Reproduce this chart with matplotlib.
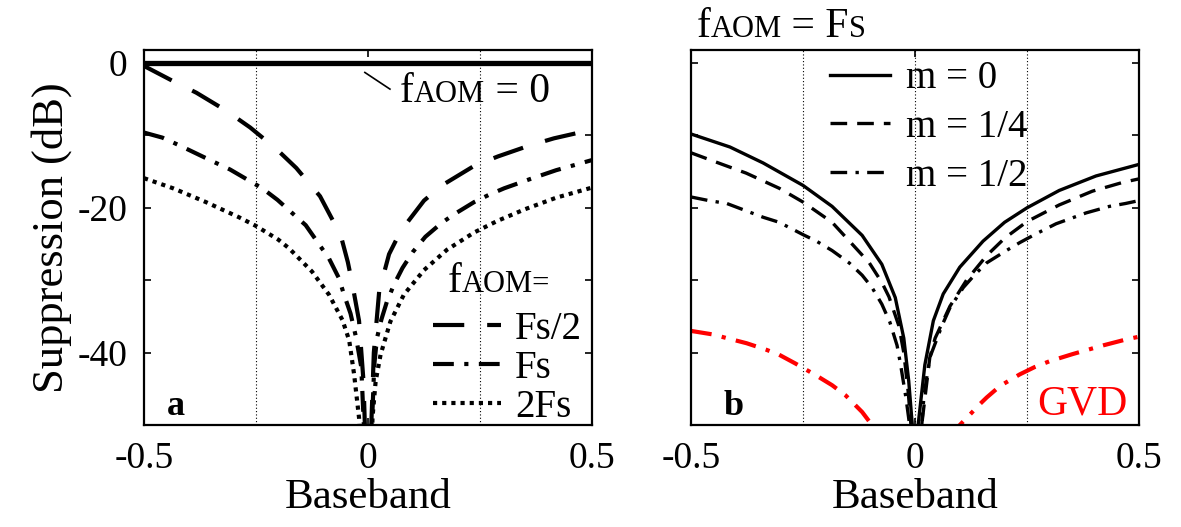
import matplotlib
matplotlib.use("Agg")
import matplotlib.pyplot as plt

plt.rcParams['font.family'] = ['Liberation Serif', 'DejaVu Serif']
plt.rcParams['axes.unicode_minus'] = False

# ---- panel a : suppression vs baseband for several AOM shifts ----
a_zero_x = [-0.5, 0.5]
a_zero_y = [0.0, 0.0]

a_half_x = [-0.5, -0.435, -0.383, -0.316, -0.263, -0.204, -0.16, -0.107, -0.078, -0.06, -0.045,
            -0.035, -0.02, -0.01, -0.004,
            0.004, 0.013, 0.025, 0.047, 0.073, 0.125, 0.165, 0.237, 0.29, 0.36, 0.415, 0.5]
a_half_y = [-0.4, -2.5, -4.1, -6.6, -8.9, -11.9, -14.5, -18.4, -21.8, -24.0, -27.5,
            -30.5, -35.6, -44.0, -56.0,
            -56.0, -40.0, -31.5, -26.4, -23.2, -19.0, -16.9, -14.2, -12.9, -11.4, -10.4, -9.2]

a_fs_x = [-0.5, -0.459, -0.42, -0.346, -0.308, -0.236, -0.202, -0.139, -0.113, -0.087, -0.065,
          -0.054, -0.039, -0.027, -0.015, -0.005,
          0.005, 0.014, 0.02, 0.03, 0.042, 0.058, 0.077, 0.1, 0.128, 0.164, 0.192, 0.237, 0.27,
          0.304, 0.363, 0.42, 0.466, 0.5]
a_fs_y = [-9.6, -10.3, -11.4, -13.6, -14.7, -17.3, -18.9, -22.4, -24.7, -27.0, -29.7,
          -31.9, -34.6, -37.8, -42.0, -56.0,
          -56.0, -41.7, -38.0, -35.4, -33.0, -30.6, -28.3, -26.1, -24.0, -22.1, -20.9, -19.2, -18.2,
          -17.3, -16.0, -14.8, -14.0, -13.4]

a_2fs_x = [-0.5, -0.435, -0.362, -0.288, -0.25, -0.2, -0.176, -0.125, -0.087, -0.057, -0.042,
           -0.031, -0.02, -0.015,
           0.008, 0.01, 0.017, 0.028, 0.05, 0.08, 0.125, 0.176, 0.237, 0.289, 0.35, 0.42, 0.5]
a_2fs_y = [-15.9, -17.3, -19.2, -21.3, -22.5, -24.4, -25.6, -28.8, -32.0, -35.5, -38.3,
           -43.0, -49.0, -56.0,
           -56.0, -49.0, -44.0, -40.3, -35.7, -32.0, -28.6, -25.8, -23.4, -21.8, -20.2, -18.6, -17.2]

a_labels = ['Fs/2', 'Fs', '2Fs']

# ---- panel b : f_AOM = Fs, several m, plus GVD ----
b_m0_x = [-0.5, -0.413, -0.339, -0.25, -0.185, -0.118, -0.074, -0.044, -0.025, -0.014, -0.006, -0.003,
          0.003, 0.007, 0.022, 0.041, 0.063, 0.1, 0.152, 0.2, 0.25, 0.322, 0.404, 0.5]
b_m0_y = [-9.8, -11.6, -13.8, -16.9, -19.8, -23.8, -27.8, -32.4, -38.0, -43.9, -50.0, -56.0,
          -56.0, -50.0, -41.7, -35.6, -31.9, -28.2, -24.6, -22.0, -20.0, -17.6, -15.6, -14.0]

b_m14_x = [-0.5, -0.43, -0.377, -0.303, -0.25, -0.185, -0.133, -0.102, -0.074, -0.058, -0.036,
           -0.025, -0.015, -0.009, -0.005,
           0.008, 0.015, 0.033, 0.045, 0.078, 0.115, 0.16, 0.2, 0.25, 0.322, 0.396, 0.463, 0.5]
b_m14_y = [-12.4, -14.0, -15.2, -17.3, -19.2, -22.0, -25.5, -27.6, -30.3, -32.3, -36.3,
           -40.0, -45.5, -50.0, -56.0,
           -56.0, -50.0, -40.7, -38.0, -33.6, -30.0, -26.6, -24.2, -21.9, -19.6, -17.7, -16.5, -16.0]

b_m12_x = [-0.5, -0.46, -0.42, -0.339, -0.303, -0.25, -0.22, -0.185, -0.147, -0.118, -0.096,
           -0.074, -0.056, -0.04, -0.032, -0.02, -0.012, -0.006,
           0.008, 0.02, 0.033, 0.06, 0.078, 0.108, 0.134, 0.16, 0.204, 0.234, 0.27, 0.315,
           0.382, 0.434, 0.47, 0.5]
b_m12_y = [-18.5, -19.0, -19.4, -21.3, -22.0, -23.7, -24.6, -25.9, -27.6, -29.3, -31.0,
           -33.3, -35.8, -39.0, -41.7, -46.3, -50.0, -56.0,
           -56.0, -46.0, -40.7, -36.3, -33.8, -31.0, -29.2, -27.6, -25.9, -24.8, -23.6, -22.2,
           -20.7, -19.8, -19.4, -19.0]

gvd_left_x = [-0.5, -0.45, -0.42, -0.376, -0.332, -0.303, -0.267, -0.222, -0.185, -0.155, -0.118, -0.096, -0.08]
gvd_left_y = [-37.0, -37.5, -38.0, -38.7, -39.6, -40.3, -41.5, -43.1, -44.5, -45.9, -48.2, -50.0, -52.0]
gvd_right_x = [0.085, 0.1, 0.122, 0.145, 0.16, 0.19, 0.234, 0.267, 0.3, 0.352, 0.386, 0.42, 0.47, 0.5]
gvd_right_y = [-52.0, -50.0, -48.6, -47.1, -46.2, -44.6, -43.0, -42.0, -41.2, -40.2, -39.6, -39.0, -38.2, -37.8]

b_labels = ['m = 0', 'm = 1/4', 'm = 1/2']

fig = plt.figure(figsize=(11.81, 5.27), dpi=100)
ax1 = fig.add_axes([0.1219, 0.1935, 0.3794, 0.7116])
ax2 = fig.add_axes([0.5851, 0.1935, 0.3793, 0.7116])
renderer = fig.canvas.get_renderer()


def smallcaps(ax, x, y, pieces, coords='data', color='k'):
    # write a run of text pieces with their own font sizes on one baseline
    off = 0.0
    for s, size in pieces:
        t = ax.annotate(s, xy=(x, y), xycoords=coords, xytext=(off, 0),
                        textcoords='offset points', fontsize=size, color=color,
                        ha='left', va='baseline', annotation_clip=False)
        off += t.get_window_extent(renderer).width * 72 / fig.dpi


for ax in (ax1, ax2):
    ax.set_xlim(-0.5, 0.5)
    ax.set_ylim(-50, 1.8)
    ax.set_xticks([-0.5, 0, 0.5])
    ax.set_xticklabels(['-0.5', '0', '0.5'])
    ax.set_yticks([0, -10, -20, -30, -40])
    ax.tick_params(direction='in', length=5, width=1.2, top=True, right=True,
                   labelsize=27, pad=12)
    for sp in ax.spines.values():
        sp.set_linewidth(1.6)
    ax.set_xlabel('Baseband', fontsize=31, labelpad=2)
    for xv in (-0.25, 0.25):
        ax.axvline(xv, color='k', lw=0.8, ls=(0, (1, 2)))

ax1.set_yticklabels(['0', '', '-20', '', '-40'])
ax2.set_yticklabels([])
ax2.axvline(0, color='k', lw=0.8, ls=(0, (1, 2)))
ax1.set_ylabel('Suppression (dB)', fontsize=32, labelpad=4)

# panel a
ax1.plot(a_zero_x, a_zero_y, color='k', lw=3.8, solid_capstyle='butt')
l1, = ax1.plot(a_half_x, a_half_y, color='k', lw=3, dashes=(7.5, 5.5))
l2, = ax1.plot(a_fs_x, a_fs_y, color='k', lw=3, dashes=(5, 2.5, 1, 2.5))
l3, = ax1.plot(a_2fs_x, a_2fs_y, color='k', lw=3, dashes=(1, 1.2))
ax1.legend([l1, l2, l3], a_labels, loc='lower left', bbox_to_anchor=(0.585, -0.075),
           frameon=False, fontsize=28, handlelength=1.75, handletextpad=0.35,
           labelspacing=0.05, borderpad=0.2)
smallcaps(ax1, 0.178, -31.6, [('f', 30), ('AOM=', 22)])
ax1.plot([-0.007, 0.049], [-1.3, -3.6], color='k', lw=1.2)
smallcaps(ax1, 0.071, -5.4, [('f', 30), ('AOM', 22), (' = 0', 30)])
ax1.text(-0.449, -48.6, 'a', fontsize=26, fontweight='bold', va='baseline')

# panel b
m0, = ax2.plot(b_m0_x, b_m0_y, color='k', lw=2.4)
m14, = ax2.plot(b_m14_x, b_m14_y, color='k', lw=2.4, dashes=(5, 3))
m12, = ax2.plot(b_m12_x, b_m12_y, color='k', lw=2.4, dashes=(5, 2.5, 1, 2.5))
ax2.plot(gvd_left_x, gvd_left_y, color='#ff0000', lw=3, dashes=(5, 2.5, 1, 2.5))
ax2.plot(gvd_right_x, gvd_right_y, color='#ff0000', lw=3, dashes=(5, 2.5, 1, 2.5))
ax2.legend([m0, m14, m12], b_labels, loc='upper left', bbox_to_anchor=(0.25, 1.045),
           frameon=False, fontsize=28, handlelength=1.55, handletextpad=0.4,
           labelspacing=0.3, borderpad=0.2)
smallcaps(ax2, 0.012, 1.035, [('f', 30), ('AOM', 22), (' = F', 30), ('S', 22)], coords='axes fraction')
ax2.text(-0.428, -48.6, 'b', fontsize=26, fontweight='bold', va='baseline')
ax2.text(0.274, -48.6, 'GVD', fontsize=30, color='#ff0000', va='baseline')

fig.savefig('out.png', dpi=100)
